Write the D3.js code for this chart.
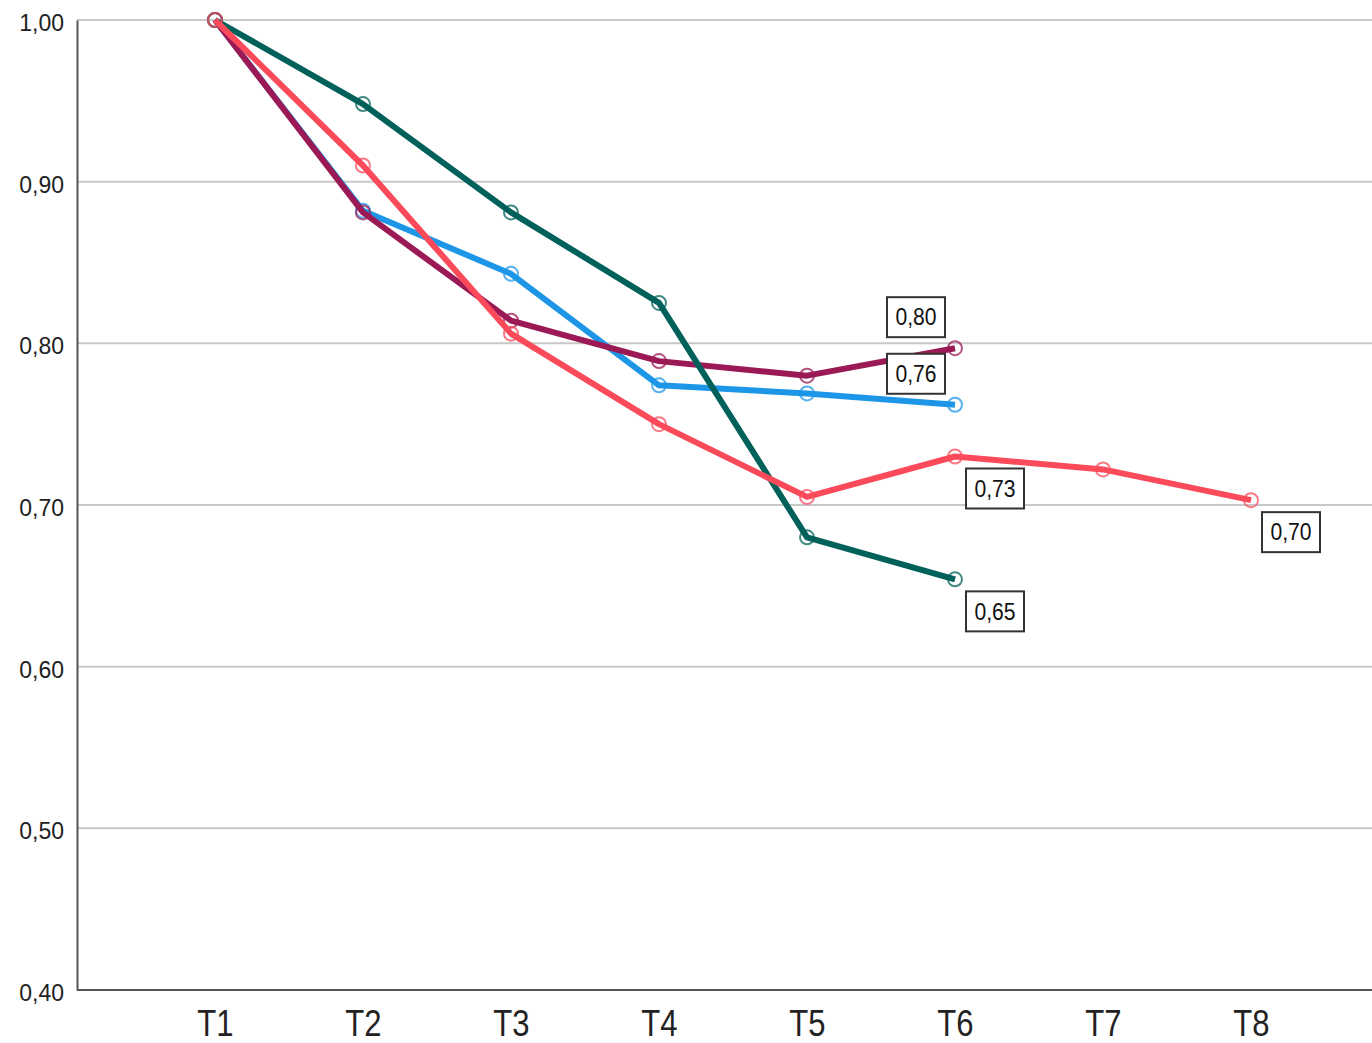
<!DOCTYPE html>
<html>
<head>
<meta charset="utf-8">
<script src="https://cdn.jsdelivr.net/npm/d3@7"></script>
<style>
  body { margin: 0; background: #fff; }
  svg { display: block; }
</style>
</head>
<body>
<svg id="chart" width="1372" height="1043"></svg>
<script>
const categories = ["T1", "T2", "T3", "T4", "T5", "T6", "T7", "T8"];
const yTicks = [0.40, 0.50, 0.60, 0.70, 0.80, 0.90, 1.00];

const seriesNames = ["blue", "purple", "green", "red"];
const blueValues   = [1.000, 0.882, 0.843, 0.774, 0.769, 0.762];
const purpleValues = [1.000, 0.881, 0.814, 0.789, 0.780, 0.797];
const greenValues  = [1.000, 0.948, 0.881, 0.825, 0.680, 0.654];
const redValues    = [1.000, 0.910, 0.806, 0.750, 0.705, 0.730, 0.722, 0.703];
const seriesColors = ["#1e96e8", "#9b1a56", "#00605a", "#fb4b5b"];
// end-point labels: [series, category, label text]
const endLabels = [
  ["purple", "T6", "0,80"],
  ["blue",   "T6", "0,76"],
  ["red",    "T6", "0,73"],
  ["green",  "T6", "0,65"],
  ["red",    "T8", "0,70"]
];

const valuesBy = { blue: blueValues, purple: purpleValues, green: greenValues, red: redValues };

const svg = d3.select("#chart");
const plotLeft = 77, plotRight = 1372, plotTop = 20, plotBottom = 990;

const x = d3.scalePoint().domain(categories).range([215, 1251]);
const y = d3.scaleLinear().domain([0.40, 1.00]).range([plotBottom, plotTop]);
const fmt = v => d3.format(".2f")(v).replace(".", ",");

// gridlines
svg.append("g").selectAll("line").data(yTicks.filter(t => t > 0.4)).join("line")
  .attr("x1", plotLeft).attr("x2", plotRight)
  .attr("y1", d => y(d)).attr("y2", d => y(d))
  .attr("stroke", "#c8c8c8").attr("stroke-width", 2);

// y axis
const yAxis = svg.append("g").attr("transform", `translate(${plotLeft},0)`)
  .call(d3.axisLeft(y).tickValues(yTicks).tickFormat(fmt).tickSize(0).tickPadding(13));
yAxis.select(".domain").attr("stroke", "#555").attr("stroke-width", 2);
yAxis.selectAll("text").attr("font-family", "'Liberation Sans', Arial, sans-serif")
  .attr("font-size", 23).attr("fill", "#222").attr("dy", "0.45em");

// x axis
const xAxis = svg.append("g").attr("transform", `translate(0,${plotBottom})`)
  .call(d3.axisBottom(x).tickSize(0).tickPadding(0));
xAxis.select(".domain").remove();
xAxis.append("line").attr("x1", plotLeft).attr("x2", plotRight).attr("y1", 0).attr("y2", 0)
  .attr("stroke", "#555").attr("stroke-width", 2);
xAxis.selectAll(".tick text")
  .attr("font-family", "'Liberation Sans', Arial, sans-serif")
  .attr("font-size", 37).attr("fill", "#222")
  .attr("y", 46).attr("dy", 0)
  .attr("transform", "scale(0.84,1)");

const line = d3.line().x((d, i) => x(categories[i])).y(d => y(d));

seriesNames.forEach((name, si) => {
  const vals = valuesBy[name];
  const g = svg.append("g");
  g.append("path").datum(vals).attr("d", line)
    .attr("fill", "none").attr("stroke", seriesColors[si])
    .attr("stroke-width", 6).attr("stroke-linejoin", "round");
  g.selectAll("circle").data(vals).join("circle")
    .attr("cx", (d, i) => x(categories[i])).attr("cy", d => y(d)).attr("r", 7)
    .attr("fill", "none").attr("stroke", seriesColors[si]).attr("stroke-width", 2)
    .attr("stroke-opacity", 0.75);
});

// labels
endLabels.forEach(([name, cat, txt]) => {
  const i = categories.indexOf(cat);
  const v = valuesBy[name][i];
  const px = x(cat), py = y(v);
  const above = (name === "purple" || name === "blue");
  const cx = px + (above ? -39 : 40);
  const cy = py + (above ? -31 : 32);
  const g = svg.append("g");
  g.append("rect").attr("x", cx - 29).attr("y", cy - 20).attr("width", 58).attr("height", 40)
    .attr("fill", "#fff").attr("stroke", "#333").attr("stroke-width", 2);
  g.append("text").attr("x", cx).attr("y", cy).attr("dy", "0.36em")
    .attr("text-anchor", "middle")
    .attr("font-family", "'Liberation Sans', Arial, sans-serif")
    .attr("font-size", 23).attr("fill", "#111")
    .attr("transform", `translate(${cx},0) scale(0.92,1) translate(${-cx},0)`)
    .text(txt);
});
</script>
</body>
</html>
